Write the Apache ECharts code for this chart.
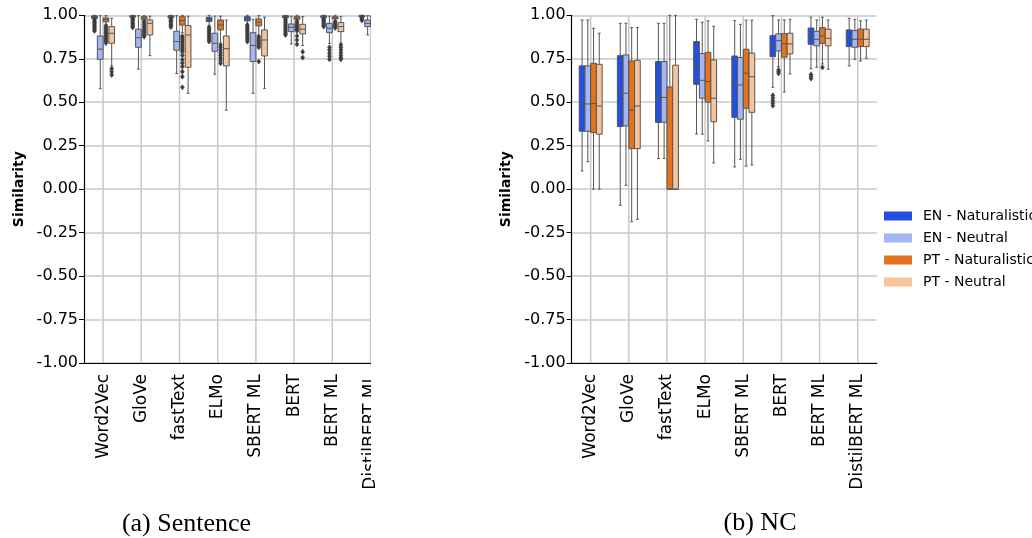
<!DOCTYPE html>
<html><head><meta charset="utf-8">
<script src="https://cdn.jsdelivr.net/npm/echarts@6/dist/echarts.min.js"></script>
<style>html,body{margin:0;padding:0;background:#fff}#c{width:1032px;height:538px}</style>
</head><body><div id="c"></div>
<script>
// ---------- data ----------
const categories = ['Word2Vec','GloVe','fastText','ELMo','SBERT ML','BERT','BERT ML','DistilBERT ML'];
const hues = ['EN - Naturalistic','EN - Neutral','PT - Naturalistic','PT - Neutral'];
const yTicks = [-1, -0.75, -0.5, -0.25, 0, 0.25, 0.5, 0.75, 1];
// each entry: [whiskerLow, Q1, median, Q3, whiskerHigh]
const sentENNat = [[0.979,0.982,0.990,0.997,1.0],[0.986,0.989,0.994,0.998,1.0],[0.982,0.985,0.992,0.998,1.0],[0.940,0.964,0.980,0.989,1.0],[0.950,0.968,0.980,0.992,1.0],[0.980,0.985,0.992,0.998,1.0],[0.980,0.985,0.992,0.998,1.0],[0.975,0.990,0.995,1.0,1.0]];
const sentENNeu = [[0.578,0.747,0.805,0.881,0.998],[0.690,0.816,0.871,0.920,0.998],[0.665,0.799,0.849,0.908,0.998],[0.661,0.793,0.839,0.897,0.995],[0.551,0.734,0.826,0.900,0.977],[0.835,0.906,0.931,0.950,0.995],[0.839,0.900,0.925,0.954,0.995],[0.887,0.935,0.954,0.973,0.998]];
const sentPTNat = [[0.945,0.962,0.975,0.985,0.998],[0.968,0.977,0.985,0.992,0.998],[0.900,0.944,0.969,0.992,1.0],[0.840,0.916,0.944,0.973,0.995],[0.885,0.939,0.960,0.979,0.998],[0.970,0.977,0.985,0.992,1.0],[0.970,0.979,0.986,0.992,1.0],[0.975,0.985,0.992,0.998,1.0]];
const sentPTNeu = [[0.709,0.839,0.897,0.935,0.983],[0.768,0.887,0.954,0.973,0.995],[0.551,0.701,0.887,0.941,0.995],[0.454,0.709,0.808,0.881,0.973],[0.580,0.766,0.858,0.916,0.989],[0.826,0.893,0.920,0.948,0.992],[0.839,0.906,0.935,0.958,0.992],[0.890,0.930,0.950,0.970,0.995]];
const sentENNatOut = [[0.974,0.966,0.958,0.950,0.942,0.934,0.926,0.918,0.910],[0.982,0.975,0.968,0.960,0.952,0.944,0.937,0.930],[0.978,0.971,0.964,0.956,0.948,0.940,0.932],[0.931,0.922,0.913,0.904,0.895,0.886,0.877,0.868,0.858,0.849],[0.944,0.935,0.926,0.917,0.908,0.899,0.890,0.880,0.870,0.860,0.849],[0.977,0.968,0.959,0.950,0.941,0.932,0.923,0.914,0.905,0.896,0.887],[0.977,0.970,0.962,0.955,0.948,0.941,0.935],[0.985,0.978,0.970]];
const sentENNeuOut = [[],[],[],[],[],[],[0.816,0.800,0.782,0.765,0.747],[]];
const sentPTNatOut = [[0.939,0.930,0.921,0.912,0.903,0.894,0.885,0.876,0.867,0.858,0.849,0.840],[0.964,0.955,0.946,0.937,0.928,0.919,0.910,0.901,0.892,0.884,0.877],[0.880,0.870,0.860,0.850,0.840,0.830,0.820,0.810,0.800,0.790,0.770,0.745,0.725,0.705,0.676,0.647,0.586],[0.829,0.815,0.800,0.785,0.770,0.755,0.740,0.724],[0.877,0.866,0.855,0.845,0.836,0.826,0.816,0.734],[0.964,0.955,0.946,0.937,0.928,0.919,0.910,0.881,0.858,0.833],[0.964,0.956,0.948,0.940,0.933,0.928],[]];
const sentPTNeuOut = [[0.693,0.675,0.657],[],[],[],[],[0.790,0.757],[0.829,0.815,0.800,0.785,0.770,0.757,0.747],[]];
const ncENNat = [[0.105,0.333,0.488,0.709,0.973],[-0.093,0.360,0.548,0.768,0.954],[0.176,0.383,0.532,0.734,0.954],[0.317,0.603,0.714,0.849,0.977],[0.128,0.413,0.622,0.766,0.969],[0.586,0.762,0.820,0.883,0.998],[0.693,0.833,0.881,0.927,0.989],[0.709,0.820,0.862,0.916,0.983]];
const ncENNeu = [[0.158,0.333,0.490,0.709,0.973],[0.022,0.364,0.552,0.772,0.954],[0.176,0.385,0.527,0.734,0.954],[0.316,0.523,0.626,0.780,0.960],[0.172,0.402,0.599,0.757,0.948],[0.705,0.795,0.854,0.893,0.973],[0.701,0.824,0.862,0.908,0.973],[0.747,0.816,0.862,0.912,0.977]];
const ncPTNat = [[0.0,0.325,0.493,0.724,0.925],[-0.187,0.233,0.454,0.737,0.929],[0.0,0.0,0.0,0.588,1.0],[0.277,0.500,0.619,0.787,0.968],[0.132,0.465,0.667,0.805,0.972],[0.559,0.759,0.837,0.895,0.973],[0.720,0.839,0.881,0.929,0.989],[0.737,0.820,0.862,0.921,0.968]];
const ncPTNeu = [[0.0,0.316,0.478,0.718,0.897],[-0.173,0.233,0.478,0.741,0.929],[0.0,0.0,0.0,0.713,1.0],[0.151,0.388,0.523,0.743,0.937],[0.139,0.442,0.647,0.783,0.972],[0.663,0.778,0.835,0.897,0.977],[0.690,0.824,0.868,0.920,0.973],[0.753,0.820,0.862,0.920,0.973]];
const ncENNatOut = [[],[],[],[],[],[0.540,0.525,0.510,0.495,0.480],[0.660,0.648,0.636],[]];
const ncENNeuOut = [[],[],[],[],[],[0.686,0.676,0.666],[],[]];
const ncPTNatOut = [[],[],[],[],[],[],[0.700],[]];
const ncPTNeuOut = [[],[],[],[],[],[],[],[]];
const captions = ['(a) Sentence', '(b) NC'];

// ---------- styling ----------
const colors = ['#2350e0','#a3b5f2','#e2731f','#f5c39c'];
const LINE = '#555555';
const GRIDC = '#c8c8c8';
const GROUP = 0.6;
const FONT = 'DejaVu Sans';

function boxSeries(g, h, stats, outs) {
  return {
    type: 'custom', name: hues[h], xAxisIndex: g, yAxisIndex: g, z: 5,
    itemStyle: { color: colors[h] },
    data: stats.map((s, i) => [i].concat(s)),
    renderItem: function (params, api) {
      const ci = api.value(0);
      const band = api.size([1, 0])[0];
      const c = api.coord([ci, 0])[0];
      const bw = band * GROUP / 4;
      const cx = c + (-GROUP / 2 + (h + 0.5) * GROUP / 4) * band;
      const y = k => api.coord([ci, api.value(k)])[1];
      const lo = y(1), q1 = y(2), md = y(3), q3 = y(4), hi = y(5);
      const ls = { stroke: LINE, lineWidth: 1 };
      const ch = [
        { type: 'line', shape: { x1: cx, y1: q1, x2: cx, y2: lo }, style: ls },
        { type: 'line', shape: { x1: cx, y1: q3, x2: cx, y2: hi }, style: ls },
        { type: 'line', shape: { x1: cx - bw * 0.25, y1: lo, x2: cx + bw * 0.25, y2: lo }, style: ls },
        { type: 'line', shape: { x1: cx - bw * 0.25, y1: hi, x2: cx + bw * 0.25, y2: hi }, style: ls },
        { type: 'rect', shape: { x: cx - bw / 2, y: q3, width: bw, height: Math.max(q1 - q3, 0.5) }, style: { fill: colors[h], stroke: LINE, lineWidth: 1 } },
        { type: 'line', shape: { x1: cx - bw / 2, y1: md, x2: cx + bw / 2, y2: md }, style: ls }
      ];
      (outs[params.dataIndex] || []).forEach(v => {
        const oy = api.coord([ci, v])[1];
        ch.push({ type: 'polygon', shape: { points: [[cx, oy - 2.6], [cx + 2, oy], [cx, oy + 2.6], [cx - 2, oy]] }, style: { fill: '#3d3d3d', stroke: '#3d3d3d', lineWidth: 0.5 } });
      });
      return { type: 'group', children: ch };
    }
  };
}

function vGridSeries(g) {
  return {
    type: 'custom', xAxisIndex: g, yAxisIndex: g, z: 1, silent: true,
    data: categories.map((c, i) => [i]),
    renderItem: function (params, api) {
      const x = api.coord([api.value(0), 0])[0];
      const t = api.coord([api.value(0), 1])[1];
      const b = api.coord([api.value(0), -1])[1];
      return { type: 'line', shape: { x1: x, y1: t, x2: x, y2: b }, style: { stroke: GRIDC, lineWidth: 1.5 } };
    }
  };
}

function xAxis(g) {
  return {
    type: 'category', gridIndex: g, data: categories, boundaryGap: true,
    axisLine: { onZero: false, lineStyle: { color: '#000', width: 1.2 } },
    axisTick: { alignWithLabel: true, length: 5, lineStyle: { color: '#000' } },
    axisLabel: { rotate: 90, interval: 0, margin: 11, color: '#000', fontSize: 17, fontFamily: FONT },
    splitLine: { show: false }
  };
}
function yAxis(g) {
  return {
    type: 'value', gridIndex: g, min: yTicks[0], max: yTicks[yTicks.length - 1], interval: 0.25,
    name: 'Similarity', nameLocation: 'middle', nameGap: 58, nameRotate: 90,
    nameTextStyle: { fontWeight: 'bold', fontSize: 14, color: '#000', fontFamily: FONT },
    axisLine: { show: true, lineStyle: { color: '#000', width: 1.2 } },
    axisTick: { show: true, length: 5, lineStyle: { color: '#000' } },
    axisLabel: { formatter: v => v.toFixed(2), color: '#000', fontSize: 16, fontFamily: FONT, margin: 6 },
    splitLine: { show: true, lineStyle: { color: GRIDC, width: 1.5 } }
  };
}

const chart = echarts.init(document.getElementById('c'), null, { renderer: 'canvas' });
chart.setOption({
  animation: false,
  backgroundColor: '#fff',
  grid: [
    { left: 84, top: 15.3, width: 305.6, height: 347.7 },
    { left: 571.6, top: 15.3, width: 305.2, height: 347.7 }
  ],
  xAxis: [xAxis(0), xAxis(1)],
  yAxis: [yAxis(0), yAxis(1)],
  legend: {
    data: hues, orient: 'vertical', left: 884, top: 208, icon: 'rect',
    itemWidth: 28, itemHeight: 9, itemGap: 6, padding: 0,
    textStyle: { fontSize: 14, color: '#000', fontFamily: FONT, lineHeight: 16, padding: [0, 0, 0, 6] }
  },
  graphic: [
    { type: 'rect', z: 100, shape: { x: 371, y: 0, width: 122, height: 480 }, style: { fill: '#fff' } },
    { type: 'text', z: 101, x: 186.5, y: 524, style: { text: captions[0], font: '26px "Liberation Serif"', fill: '#000', textAlign: 'center', textVerticalAlign: 'middle' } },
    { type: 'text', z: 101, x: 760, y: 523, style: { text: captions[1], font: '26px "Liberation Serif"', fill: '#000', textAlign: 'center', textVerticalAlign: 'middle' } }
  ],
  series: [
    vGridSeries(0), vGridSeries(1),
    boxSeries(0, 0, sentENNat, sentENNatOut), boxSeries(0, 1, sentENNeu, sentENNeuOut),
    boxSeries(0, 2, sentPTNat, sentPTNatOut), boxSeries(0, 3, sentPTNeu, sentPTNeuOut),
    boxSeries(1, 0, ncENNat, ncENNatOut), boxSeries(1, 1, ncENNeu, ncENNeuOut),
    boxSeries(1, 2, ncPTNat, ncPTNatOut), boxSeries(1, 3, ncPTNeu, ncPTNeuOut)
  ]
});
</script></body></html>
